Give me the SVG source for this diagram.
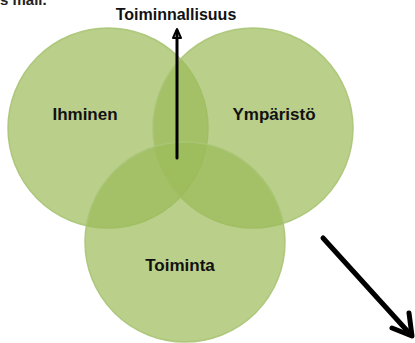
<svg xmlns="http://www.w3.org/2000/svg" width="415" height="343" viewBox="0 0 415 343">
<defs>
<style>
.c{fill:#9bbb59;fill-opacity:0.7;stroke:#a9c576;stroke-opacity:0.9;stroke-width:1.5}
.lbl{font-family:"Liberation Sans",Arial,sans-serif;font-weight:bold;font-size:17px;fill:#111;text-anchor:middle}
.ar{fill:none;stroke:#000;stroke-linecap:round;stroke-linejoin:round}
</style>
</defs>
<rect width="415" height="343" fill="#ffffff"/>
<text x="0" y="5" style="font-family:'Liberation Sans',Arial,sans-serif;font-weight:bold;font-size:15px;fill:#222">s mall.</text>
<g id="ihminen"><circle class="c" cx="108" cy="128" r="100"/></g>
<g id="ymparisto"><circle class="c" cx="253" cy="128" r="100"/></g>
<g id="toiminta"><circle class="c" cx="185" cy="242" r="100"/></g>
<g id="labels">
<text class="lbl" x="85" y="120">Ihminen</text>
<text class="lbl" x="274" y="120">Ympäristö</text>
<text class="lbl" x="180" y="271">Toiminta</text>
<text class="lbl" x="176" y="20" style="font-size:16px">Toiminnallisuus</text>
</g>
<g id="connectors">
<path class="ar" d="M177 158 V31" stroke-width="3"/>
<path class="ar" d="M173 38 L177 29 L181 38 Z" stroke-width="2" fill="#000"/>
<path class="ar" d="M323 238 L411 335" stroke-width="5"/>
<path class="ar" d="M392 328 L412 336 L409 313" stroke-width="5"/>
</g>
</svg>
